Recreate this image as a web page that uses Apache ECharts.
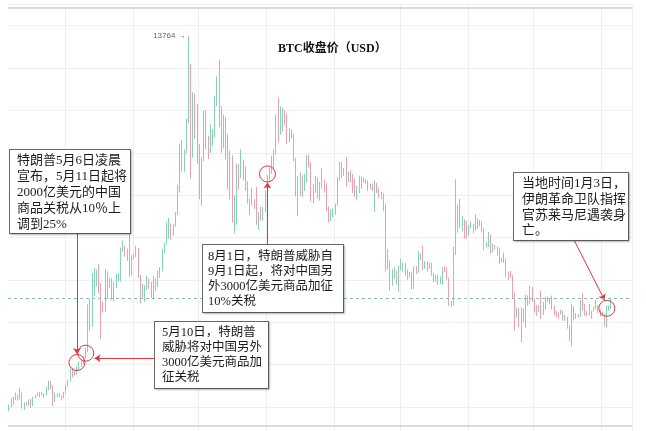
<!DOCTYPE html>
<html>
<head>
<meta charset="utf-8">
<title>BTC收盘价（USD）</title>
<script src="https://cdn.jsdelivr.net/npm/echarts@6/dist/echarts.min.js"></script>
<style>
  html, body { margin: 0; padding: 0; background: #ffffff; }
  #chart { width: 646px; height: 431px; }
</style>
</head>
<body>
<div id="chart"></div>
<script>
// Daily BTC candles, 2019-04-05 .. 2020-01-05 (USD).
// Crypto trades around the clock, so each day opens at the previous close.
const startDay = '2019-04-05';
const firstOpen = 4960;
const emptyDaysAfter = 9;   // blank room to the right of the last candle

const closes = [
  // Apr 5-30
  5040, 5060, 5200, 5280, 5190, 5320, 5030, 5080, 5070, 5160, 5030, 5220, 5270, 5300, 5290, 5320, 5290, 5400, 5560, 5440, 5180, 5270, 5280, 5260, 5210, 5330,
  // May
  5500, 5620, 5850, 5820, 5800, 5900, 6000, 6050, 6170, 6300, 7250, 6980, 7800, 7970, 8200, 7880, 7350, 7260, 8190, 7980, 7960, 7620, 7880, 7990, 8050, 8670, 8800, 8720, 8660, 8270, 8550,
  // Jun
  8560, 8740, 8110, 7680, 7790, 7800, 8000, 7930, 7640, 8020, 7920, 8170, 8230, 8690, 8860, 8980, 9320, 9080, 9280, 9530, 10210, 10700, 10870, 11000, 11780, 12930, 11160, 12400, 11900, 10800,
  // Jul
  10580, 10800, 11980, 11150, 11000, 11250, 11480, 12300, 12580, 12100, 11350, 11800, 11390, 10250, 10900, 9400, 9690, 10650, 10530, 10770, 10600, 10330, 9850, 9770, 9880, 9850, 9480, 9530, 9510, 9600, 10080,
  // Aug
  10400, 10530, 10820, 10970, 11800, 11480, 11980, 11980, 11840, 11290, 11550, 11390, 10860, 10020, 10300, 10360, 10230, 10340, 10920, 10760, 10130, 10130, 10400, 10140, 10150, 10370, 10190, 9720, 9490, 9590, 9600,
  // Sep
  9760, 10380, 10630, 10580, 10580, 10320, 10490, 10400, 10310, 10100, 10160, 10420, 10360, 10360, 10310, 10260, 10180, 10160, 10280, 10170, 9980, 10030, 9700, 8530, 8430, 8060, 8190, 8210, 8050, 8300,
  // Oct
  8340, 8380, 8230, 8160, 8150, 7860, 8210, 8190, 8590, 8590, 8260, 8350, 8300, 8370, 8160, 8000, 8080, 7960, 7960, 8240, 8230, 8020, 7470, 7430, 8660, 9260, 9550, 9250, 9430, 9190, 9150,
  // Nov
  9250, 9300, 9200, 9410, 9310, 9340, 9210, 8770, 8810, 9030, 8720, 8800, 8760, 8630, 8460, 8490, 8500, 8170, 8120, 8080, 7620, 7280, 7320, 6910, 7120, 7150, 7520, 7430, 7750, 7560,
  // Dec
  7400, 7300, 7300, 7200, 7390, 7540, 7500, 7520, 7340, 7220, 7200, 7190, 7250, 7070, 7110, 6880, 6620, 7280, 7150, 7190, 7140, 7510, 7320, 7250, 7200, 7200, 7250, 7310, 7390, 7220, 7170,
  // Jan 1-5
  7180, 6950, 7340, 7350, 7560
];

const highs = [
  5060, 5220, 5240, 5340, 5290, 5460, 5340, 5110, 5120, 5180, 5190, 5240, 5290, 5340, 5360, 5350, 5330, 5470, 5620, 5620, 5510, 5340, 5320, 5330, 5280, 5360,
  5520, 5650, 5900, 5920, 5860, 5960, 6080, 6100, 6200, 6400, 7420, 7550, 8160, 8280, 8240, 8380, 7930, 7480, 8250, 8200, 8040, 8040, 7960, 8140, 8160, 8760, 8930, 8810, 8740, 9080, 8580,
  8620, 8800, 8750, 8110, 7900, 7870, 8100, 8030, 7960, 8090, 8040, 8220, 8300, 8730, 8880, 9360, 9460, 9330, 9310, 9600, 10240, 11200, 11300, 11080, 11800, 13764, 13100, 12430, 12400, 12150,
  11200, 10900, 11990, 12000, 11400, 11670, 11560, 12340, 12800, 13200, 12100, 11900, 11850, 11440, 11050, 10940, 9990, 10750, 10740, 11080, 10840, 10680, 10330, 9920, 10180, 9900, 10190, 9600, 9720, 9720, 10110,
  10470, 10650, 10920, 11080, 11900, 12300, 12100, 12060, 12010, 11930, 11580, 11550, 11450, 10880, 10440, 10530, 10470, 10500, 10950, 10940, 10780, 10250, 10450, 10420, 10320, 10630, 10370, 10280, 9730, 9660, 9690,
  9800, 10430, 10780, 10790, 10640, 10900, 10550, 10580, 10500, 10390, 10220, 10460, 10440, 10420, 10380, 10350, 10280, 10270, 10340, 10290, 10170, 10080, 10040, 9800, 8730, 8460, 8250, 8300, 8220, 8340,
  8500, 8400, 8400, 8240, 8190, 8180, 8320, 8330, 8680, 8630, 8800, 8440, 8440, 8410, 8400, 8170, 8110, 8110, 8080, 8300, 8330, 8290, 8050, 7500, 8780, 10370, 9770, 9910, 9510, 9430, 9390,
  9290, 9380, 9320, 9550, 9450, 9420, 9370, 9220, 8890, 9130, 9070, 8860, 8820, 8790, 8760, 8520, 8640, 8500, 8190, 8210, 8110, 7700, 7350, 7340, 7350, 7320, 7650, 7630, 7860, 7830,
  7560, 7410, 7400, 7750, 7480, 7600, 7610, 7570, 7630, 7400, 7260, 7230, 7300, 7270, 7180, 7130, 6930, 7440, 7380, 7220, 7190, 7520, 7690, 7430, 7270, 7430, 7270, 7370, 7520, 7400, 7300,
  7250, 7210, 7400, 7400, 7580
];

const lows = [
  4900, 4990, 5050, 5160, 5150, 5170, 4960, 4930, 5030, 5030, 4980, 5020, 5200, 5260, 5230, 5270, 5220, 5270, 5390, 5420, 5020, 5120, 5230, 5230, 5160, 5200,
  5320, 5480, 5600, 5700, 5740, 5760, 5860, 5950, 6000, 6140, 6300, 6800, 6900, 7630, 7840, 7680, 6600, 7230, 7240, 7550, 7800, 7530, 7490, 7800, 7960, 7960, 8660, 8550, 8450, 8070, 8100,
  8480, 8540, 8050, 7450, 7580, 7480, 7760, 7790, 7580, 7550, 7740, 7830, 8050, 8200, 8630, 8840, 8970, 8950, 9040, 9250, 9530, 10060, 10560, 10550, 10990, 11700, 10400, 10880, 11320, 10740,
  9900, 9750, 10800, 11080, 10850, 10990, 11170, 11360, 12100, 11600, 11000, 11100, 10850, 10140, 9900, 9350, 9100, 9300, 10130, 10400, 10350, 10100, 9800, 9530, 9750, 9680, 9300, 9180, 9400, 9400, 9600,
  9920, 10340, 10500, 10600, 10950, 11240, 11420, 11500, 11660, 11200, 11240, 11340, 10800, 9970, 9500, 9980, 9950, 10100, 10300, 10650, 9860, 9800, 10060, 9920, 9870, 10150, 10060, 9630, 9350, 9380, 9480,
  9540, 9750, 10340, 10400, 10460, 10200, 10300, 10300, 10050, 9960, 9880, 10050, 10150, 10300, 10270, 10100, 10140, 10100, 9600, 10050, 9930, 9900, 9620, 8200, 8250, 7750, 7860, 8030, 7900, 7720,
  8230, 8200, 8100, 8000, 8060, 7780, 7780, 8140, 8170, 8470, 8230, 8260, 8200, 8260, 8100, 7940, 7960, 7880, 7900, 7880, 8180, 8010, 7380, 7360, 7400, 8590, 9110, 9230, 9140, 8970, 8980,
  9050, 9220, 9100, 9160, 9200, 9260, 9120, 8700, 8760, 8770, 8620, 8650, 8720, 8570, 8380, 8420, 8400, 8070, 8000, 8050, 7560, 6800, 7110, 6880, 6530, 7010, 6870, 7390, 7420, 7480,
  7230, 7150, 7240, 7080, 7170, 7300, 7480, 7420, 7300, 7160, 7120, 7090, 7180, 7040, 7030, 6850, 6560, 6430, 7040, 7080, 7110, 7130, 7270, 7160, 7140, 7160, 7080, 7250, 7300, 7210, 7140,
  7150, 6900, 6870, 7270, 7320
];

// Price axis
const priceMin = 4000;
const priceMax = 14500;
const priceStep = 1000;

// News events marked on the chart: day and price level of the ring
const events = [
  { day: '2019-05-06', price: 6050 },
  { day: '2019-05-10', price: 6270 },
  { day: '2019-08-01', price: 10500 },
  { day: '2020-01-03', price: 7330 }
];

const noteTexts = [
  ['特朗普5月6日凌晨', '宣布，5月11日起将', '2000亿美元的中国', '商品关税从10％上', '调到25%'],
  ['5月10日，特朗普', '威胁将对中国另外', '3000亿美元商品加', '征关税'],
  ['8月1日，特朗普威胁自', '9月1日起，将对中国另', '外3000亿美元商品加征', '10%关税'],
  ['当地时间1月3日，', '伊朗革命卫队指挥', '官苏莱马尼遇袭身', '亡。']
];

function buildDays(start, count) {
  const out = [];
  const d = new Date(start + 'T00:00:00Z');
  for (let i = 0; i < count; i++) {
    out.push(d.toISOString().slice(0, 10));
    d.setUTCDate(d.getUTCDate() + 1);
  }
  return out;
}

const days = buildDays(startDay, closes.length + emptyDaysAfter);

// ECharts candlestick order: [open, close, lowest, highest]
const candles = closes.map((c, i) => {
  const o = i === 0 ? firstOpen : closes[i - 1];
  return [o, c, Math.min(lows[i], o, c), Math.max(highs[i], o, c)];
});
const lastClose = closes[closes.length - 1];

const RED = '#e0363d';
const UP = '#86d2b6';
const DOWN = '#eca0a9';
const FONT_LATIN = '"Liberation Serif", "Noto Sans CJK SC", serif';
const PX_PER_USD = 0.042375;

function note(x, y, w, h, lines, size, lineHeight, pad) {
  return {
    type: 'text',
    x: x,
    y: y,
    z: 100,
    silent: true,
    style: {
      text: lines.join('\n'),
      font: size + 'px ' + FONT_LATIN,
      fill: '#1c1c1c',
      align: 'left',
      verticalAlign: 'top',
      lineHeight: lineHeight,
      width: w - pad[1] - pad[3],
      height: h - pad[0] - pad[2],
      padding: pad,
      backgroundColor: '#ffffff',
      borderColor: '#6a6a6a',
      borderWidth: 1,
      shadowColor: 'rgba(0,0,0,0.22)',
      shadowBlur: 2,
      shadowOffsetX: 1,
      shadowOffsetY: 1
    }
  };
}

const chart = echarts.init(document.getElementById('chart'), null, { renderer: 'canvas' });

chart.setOption({
  animation: false,
  backgroundColor: '#ffffff',
  title: {
    text: 'BTC收盘价（USD）',
    left: 278,
    top: 43,
    padding: 0,
    textStyle: {
      fontFamily: FONT_LATIN,
      fontSize: 12,
      fontWeight: 'bold',
      color: '#111111'
    }
  },
  grid: {
    outerBoundsMode: 'none',
    containLabel: false,
    left: 8,
    width: 624,
    top: 68 - (priceMax - 13000) * PX_PER_USD,
    height: (priceMax - priceMin) * PX_PER_USD
  },
  xAxis: {
    type: 'category',
    data: days,
    boundaryGap: true,
    axisLine: { show: false },
    axisTick: { show: false },
    axisLabel: { show: false },
    splitLine: {
      show: true,
      interval: (idx, value) => value.slice(8) === '01',
      lineStyle: { color: '#efefef', width: 1 }
    }
  },
  yAxis: {
    type: 'value',
    min: priceMin,
    max: priceMax,
    interval: priceStep,
    axisLine: { show: false },
    axisTick: { show: false },
    axisLabel: { show: false },
    splitLine: { show: true, lineStyle: { color: '#efefef', width: 1 } }
  },
  series: [{
    type: 'candlestick',
    data: candles,
    barWidth: 1,
    itemStyle: {
      color: UP,
      color0: DOWN,
      borderColor: UP,
      borderColor0: DOWN,
      borderWidth: 1
    },
    markPoint: {
      silent: true,
      data: [
        {
          type: 'max',
          valueDim: 'highest',
          symbol: 'circle',
          symbolSize: 0,
          label: {
            show: true,
            position: 'left',
            distance: 3,
            formatter: (p) => p.value + ' →',
            color: '#666666',
            fontSize: 8,
            fontFamily: '"Liberation Sans", Arial, sans-serif'
          }
        }
      ].concat(events.map(e => ({
        coord: [e.day, e.price],
        symbol: 'circle',
        symbolSize: 16,
        itemStyle: { color: 'rgba(0,0,0,0)', borderColor: RED, borderWidth: 1 },
        label: { show: false }
      })))
    },
    markLine: {
      silent: true,
      symbol: ['none', 'arrow'],
      symbolSize: 6,
      label: { show: false },
      lineStyle: { color: RED, width: 1, type: 'solid' },
      data: [
        // box -> 5/6 ring (down)
        [{ coord: [events[0].day, 9400] }, { coord: [events[0].day, 6250] }],
        // box -> 5/10 ring (left)
        [{ coord: ['2019-06-13', 6150] }, { coord: ['2019-05-14', 6150] }],
        // box -> 8/1 ring (up)
        [{ coord: [events[2].day, 8500] }, { coord: [events[2].day, 10300] }],
        // box -> 1/3 ring (diagonal)
        [{ x: 572, y: 236 }, { coord: ['2020-01-02', 7520] }]
      ]
    }
  }, {
    // dashed level of the latest close
    type: 'line',
    data: [],
    markLine: {
      silent: true,
      symbol: 'none',
      symbolSize: 0,
      label: { show: false },
      lineStyle: { color: '#8fbcb2', width: 1, type: [3, 3] },
      data: [{ yAxis: lastClose }]
    }
  }],
  graphic: {
    elements: [
      { type: 'line', z: 100, silent: true, shape: { x1: 8, y1: 8, x2: 632, y2: 8 },
        style: { stroke: '#cfcfcf', lineWidth: 1.5 } },
      { type: 'line', z: 100, silent: true, shape: { x1: 8, y1: 426, x2: 632, y2: 426 },
        style: { stroke: '#cfcfcf', lineWidth: 1.5 } },
      note(10, 150, 120, 83, noteTexts[0], 13, 16, [3, 3, 0, 7]),
      note(155, 322, 113, 66, noteTexts[1], 12.5, 15, [3, 3, 2, 7]),
      note(203, 245, 140, 67, noteTexts[2], 12.5, 15, [4, 3, 2, 5]),
      note(514, 173, 114, 67, noteTexts[3], 13, 15.7, [3, 3, 1, 8])
    ]
  }
});
</script>
</body>
</html>
